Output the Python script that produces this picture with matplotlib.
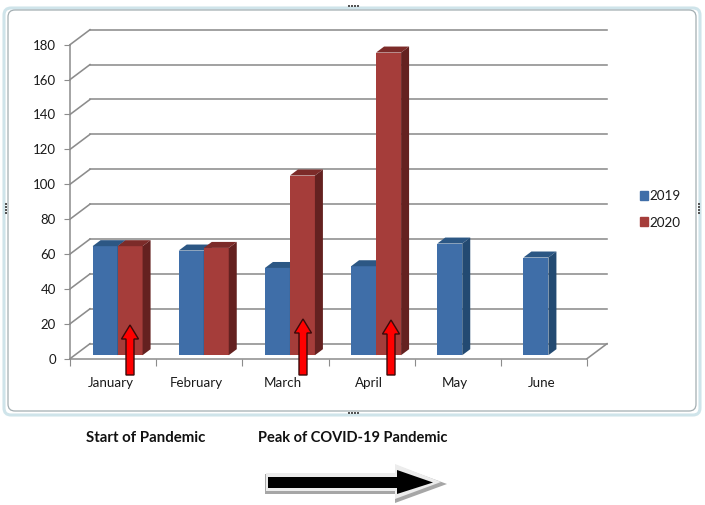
import matplotlib
matplotlib.use("Agg")
import matplotlib.pyplot as plt
from matplotlib.patches import Polygon, FancyBboxPatch, Patch
from matplotlib.transforms import Affine2D, ScaledTranslation, IdentityTransform
from matplotlib.ticker import MultipleLocator, FixedLocator

months = ["January", "February", "March", "April", "May", "June"]
values_2019 = [62.5, 60, 50, 51, 64, 56]
values_2020 = [62.5, 61.5, 103, 173.5, None, None]
series_names = ["2019", "2020"]
y_ticks = list(range(0, 181, 20))
annotations = ["Start of Pandemic", "Peak of COVID-19 Pandemic"]

W, H = 705, 505
plt.rcParams["font.family"] = ["Lato", "DejaVu Sans"]
fig = plt.figure(figsize=(W / 100, H / 100), dpi=100)
pix = Affine2D().scale(1, -1).translate(0, H)  # image pixels -> display
ident = IdentityTransform()

# chart frame
fig.add_artist(FancyBboxPatch((4, 8), 696, 407, boxstyle="round,pad=0,rounding_size=7",
                              fc="white", ec="#cfe4ea", lw=2.2, transform=pix, zorder=-2))
fig.add_artist(FancyBboxPatch((8, 10), 688, 401, boxstyle="round,pad=0,rounding_size=7",
                              fc="white", ec="#a3aeb2", lw=0.9, transform=pix, zorder=-1))
for gx, gy in [(353, 5), (353, 412), (5, 208), (698, 208)]:
    horiz = gy in (5, 412)
    for i in range(4):
        px, py = (gx - 5 + i * 3, gy) if horiz else (gx, gy - 5 + i * 3)
        fig.add_artist(plt.Rectangle((px, py), 1.6, 1.6, fc="#555555", ec="none", transform=pix))

ax = fig.add_axes([70 / W, (H - 358.7) / H, 517 / W, 314 / H])
ax.set_xlim(0, len(months))
ax.set_ylim(0, 180)
ax.patch.set_alpha(0)
for s in ("top", "right"):
    ax.spines[s].set_visible(False)
for s in ("left", "bottom"):
    ax.spines[s].set_color("#8c8c8c")
    ax.spines[s].set_linewidth(1.1)

GRID = "#8c8c8c"
wall = ax.transData + Affine2D().translate(20, 15)
n = len(months)
for v in y_ticks:
    ax.plot([0, n], [v, v], color=GRID, lw=1.15, transform=wall, clip_on=False, zorder=1)
    p0 = ax.transData.transform((0, v))
    ax.add_line(plt.Line2D([p0[0], p0[0] + 20], [p0[1], p0[1] + 15], color=GRID, lw=1.15,
                           transform=ident, clip_on=False, zorder=1))
p1 = ax.transData.transform((n, 0))
ax.add_line(plt.Line2D([p1[0], p1[0] + 20], [p1[1], p1[1] + 15], color=GRID, lw=1.15,
                       transform=ident, clip_on=False, zorder=1))

# bars with a fake 3-D depth, front face shifted into the floor
COLORS = {"2019": ("#3f6ea8", "#2c5784", "#234a72"),
          "2020": ("#a53d3a", "#7c2b29", "#642120")}
bar_w = 25 * n / 517
front = ax.transData + Affine2D().translate(4.5, 3.5)
dx, dy = 8, 6


def draw_bar(x0, v, cols):
    face, top, side = cols
    ax.bar(x0, v, width=bar_w, align="edge", color=face, transform=front, zorder=3, clip_on=False)
    a = front.transform([(x0, v), (x0 + bar_w, v), (x0 + bar_w, 0)])
    top_pts = [a[0], a[1], a[1] + (dx, dy), a[0] + (dx, dy)]
    side_pts = [a[1], a[2], a[2] + (dx, dy), a[1] + (dx, dy)]
    ax.add_patch(Polygon(top_pts, closed=True, fc=top, ec="none", transform=ident, zorder=3, clip_on=False))
    ax.add_patch(Polygon(side_pts, closed=True, fc=side, ec="none", transform=ident, zorder=3, clip_on=False))


for i in range(n):
    draw_bar(i + 0.5 - bar_w, values_2019[i], COLORS["2019"])
    if values_2020[i] is not None:
        draw_bar(i + 0.5, values_2020[i], COLORS["2020"])

ax.set_xlim(0, n)
ax.set_ylim(0, 180)

# ticks
ax.yaxis.set_major_locator(FixedLocator(y_ticks))
ax.set_yticklabels([str(v) for v in y_ticks], fontsize=9.5, color="#1a1a1a")
ax.tick_params(axis="y", length=4, color=GRID, pad=6)
ax.xaxis.set_major_locator(MultipleLocator(1))
ax.xaxis.set_ticklabels([])
ax.tick_params(axis="x", which="major", length=5, color=GRID)
ax.set_xticks([i + 0.5 for i in range(n)], minor=True)
ax.set_xticklabels(months, minor=True, fontsize=9.6, color="#1a1a1a")
ax.tick_params(axis="x", which="minor", length=0, pad=13.5)
shift = ScaledTranslation(-2.5 / 100, 0, fig.dpi_scale_trans)
for lab in ax.xaxis.get_minorticklabels():
    lab.set_transform(lab.get_transform() + shift)

fig.legend(handles=[Patch(color=COLORS[s][0], label=s) for s in series_names],
           loc="center left", bbox_to_anchor=(640 / W, (H - 209.5) / H), frameon=False,
           fontsize=9.7, handlelength=0.62, handleheight=0.62, handletextpad=0.1,
           labelspacing=1.05, labelcolor="#1a1a1a", borderpad=0, borderaxespad=0)


def red_arrow(cx, tip):
    pts = [(cx - 4, 375), (cx + 4, 375), (cx + 4, tip + 14), (cx + 8.5, tip + 14),
           (cx, tip), (cx - 8.5, tip + 14), (cx - 4, tip + 14)]
    fig.add_artist(Polygon(pts, closed=True, fc="#ff0000", ec="#3a0a0a", lw=1, transform=pix, zorder=6))


for cx, tip in [(130, 325), (303, 319), (391, 320)]:
    red_arrow(cx, tip)

fig.text(146 / W, (H - 438) / H, annotations[0], ha="center", va="center",
         fontsize=10.8, fontweight="bold", color="#111111")
fig.text(353 / W, (H - 438) / H, annotations[1], ha="center", va="center",
         fontsize=10.5, fontweight="bold", color="#111111")


# block arrow
def block(x0, x1, xh, y0, y1, yh0, yh1, **kw):
    ym = (y0 + y1) / 2
    pts = [(x0, y0), (xh, y0), (xh, yh0), (x1, ym), (xh, yh1), (xh, y1), (x0, y1)]
    fig.add_artist(Polygon(pts, closed=True, transform=pix, ec="none", **kw))


block(265, 447, 395, 474, 494, 465, 503, fc="#a6a6a6")
block(266, 441, 395, 473, 491, 464, 499, fc="#ececec")
block(268, 433, 397, 477, 488, 470, 494, fc="#000000")

fig.savefig("out.png", dpi=100)
